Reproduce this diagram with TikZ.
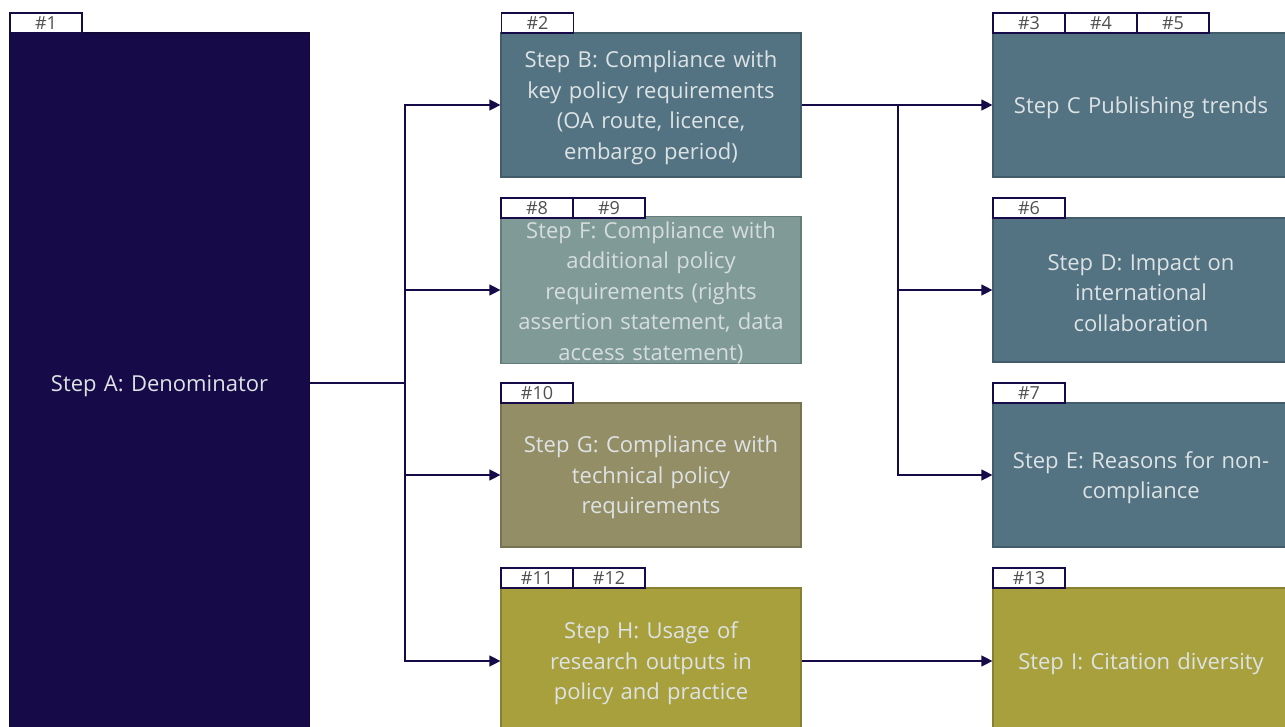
\documentclass[tikz,border=0pt]{standalone}
\usepackage{fontspec}
\setmainfont{Open Sans}
\usetikzlibrary{arrows.meta}
\definecolor{navy}{HTML}{160B48}
\definecolor{steel}{HTML}{537383}
\definecolor{sage}{HTML}{809B97}
\definecolor{khaki}{HTML}{948E66}
\definecolor{olive}{HTML}{A8A03C}
\definecolor{boxtext}{HTML}{DDE3E4}
\definecolor{tagtext}{HTML}{505050}
\tikzset{
  stepbox/.style={rectangle, draw=#1!80!black, fill=#1, line width=1.2pt,
    minimum width=300pt, minimum height=144pt, inner sep=0pt,
    text=boxtext, align=center, text width=295pt,
    font=\fontsize{22}{30.5}\selectfont,
    execute at begin node={\rule{0pt}{22pt}}},
  tag/.style={rectangle, draw=navy, fill=white, line width=1.5pt,
    minimum width=72pt, minimum height=20pt, inner sep=0pt,
    text=tagtext, font=\fontsize{18}{18}\selectfont},
  link/.style={draw=navy, line width=1.2pt},
  arr/.style={link, -{Triangle[length=11pt,width=11pt]}},
}
\begin{document}
\begin{tikzpicture}[x=1pt,y=-1pt]
\useasboundingbox (0,0) rectangle (1285,727);
\fill[white] (0,0) rectangle (1285,727);

% column 1
\node[stepbox=navy, minimum height=700pt] (A) at (159.5,383) {Step A: Denominator};

% column 2
\node[stepbox=steel] (B) at (651,105) {Step B: Compliance with\\key policy requirements\\(OA route, licence,\\embargo period)};
\node[stepbox=sage, text=boxtext!92!sage] (F) at (651,290) {Step F: Compliance with\\additional policy\\requirements (rights\\assertion statement, data\\access statement)};
\node[stepbox=khaki] (G) at (651,475) {Step G: Compliance with\\technical policy\\requirements};
\node[stepbox=olive, minimum height=146pt] (H) at (651,661) {Step H: Usage of\\research outputs in\\policy and practice};

% column 3
\node[stepbox=steel, minimum width=296pt] (C) at (1141,105) {Step C Publishing trends};
\node[stepbox=steel, minimum width=296pt] (D) at (1141,290) {Step D: Impact on\\international\\collaboration};
\node[stepbox=steel, minimum width=296pt] (E) at (1141,475) {Step E: Reasons for non-\\compliance};
\node[stepbox=olive, minimum width=296pt, minimum height=146pt] (I) at (1141,661) {Step I: Citation diversity};

% tags
\node[tag] (t1) at (46,23) {\#1};
\node[tag] (t2) at (537.5,23) {\#2};
\node[tag] (t8) at (537,208) {\#8};
\node[tag] (t9) at (609,208) {\#9};
\node[tag] (t10) at (537,393) {\#10};
\node[tag] (t11) at (537,578) {\#11};
\node[tag] (t12) at (609,578) {\#12};
\node[tag] (t3) at (1029,23) {\#3};
\node[tag] (t4) at (1101,23) {\#4};
\node[tag] (t5) at (1173,23) {\#5};
\node[tag] (t6) at (1029,208) {\#6};
\node[tag] (t7) at (1029,393) {\#7};
\node[tag] (t13) at (1029,578) {\#13};

% connectors
\coordinate (j1) at (405,383);
\coordinate (j2) at (898,105);
\draw[link] (A.east) -- (j1);
\draw[link] (j1) -- (405,105);
\draw[link] (j1) -- (405,661);
\draw[arr] (j1) |- (B.west);
\draw[arr] (j1) |- (F.west);
\draw[arr] (j1) |- (G.west);
\draw[arr] (j1) |- (H.west);
\draw[arr] (B.east) -- (C.west);
\draw[arr] (j2) |- (D.west);
\draw[arr] (j2) |- (E.west);
\draw[arr] (H.east) -- (I.west);
\end{tikzpicture}
\end{document}
